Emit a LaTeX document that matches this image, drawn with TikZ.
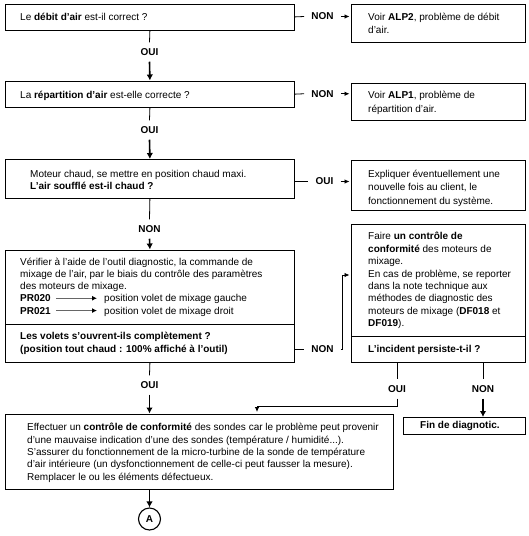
\documentclass[tikz,border=0pt]{standalone}
\usepackage{fontspec}
\setmainfont{Liberation Sans}
\usetikzlibrary{arrows.meta}
\begin{document}
\begin{tikzpicture}[x=1pt,y=-1pt,
  box/.style={draw, line width=0.8pt, inner sep=0pt, anchor=north west},
  txt/.style={anchor=north west, inner sep=0pt, align=left, font=\fontsize{10}{12.4}\selectfont},
  line/.style={anchor=base west, inner sep=0pt, font=\fontsize{10}{12.4}\selectfont},
  lbl/.style={inner xsep=7pt, inner ysep=6pt, font=\fontsize{10}{12}\selectfont\bfseries},
  link/.style={line width=0.8pt},
  bigarrow/.style={line width=1.6pt, -{Latex[length=6pt,width=6.5pt]}},
  thinarrow/.style={line width=0.8pt, -{Latex[length=5pt,width=4.5pt]}, shorten >=1.5pt},
  prarrow/.style={line width=1pt, draw=black!60, -{Latex[length=5pt,width=5pt,color=black]}},
]
\useasboundingbox (0,0) rectangle (529,536);

% ---- boxes
\node[box, minimum width=289pt, minimum height=26pt]   (b1) at (5,3.5) {};
\node[box, minimum width=174pt, minimum height=38.5pt] (r1) at (351,3.5) {};
\node[box, minimum width=289pt, minimum height=26.5pt] (b2) at (5,80.5) {};
\node[box, minimum width=174pt, minimum height=37pt]   (r2) at (351,83) {};
\node[box, minimum width=289pt, minimum height=38.5pt] (b3) at (5,159) {};
\node[box, minimum width=174pt, minimum height=50pt]   (r3) at (351,160) {};
\node[box, minimum width=289pt, minimum height=112.5pt] (b4) at (5,249.5) {};
\node[box, minimum width=174pt, minimum height=138pt]  (b6) at (351,224) {};
\node[box, minimum width=388pt, minimum height=75.5pt] (b5) at (5,413.5) {};
\node[box, minimum width=122pt, minimum height=17pt]   (b7) at (403,417) {};
\node[circle, draw, line width=1.1pt, minimum size=22pt, inner sep=0pt,
      font=\fontsize{10}{12}\selectfont\bfseries] (ca) at (149.5,519) {A};

\coordinate (d4) at (0,324);
\coordinate (d6) at (0,336.5);
\draw[link] (d4 -| b4.west) -- (d4 -| b4.east);
\draw[link] (d6 -| b6.west) -- (d6 -| b6.east);

% ---- texts
\node[line] (t1) at (20,20) {Le \textbf{débit d'air} est-il correct ?};
\node[txt, font=\fontsize{10}{13.4}\selectfont] (tr1) at (368,10.62)
  {\strut Voir \textbf{ALP2}, problème de débit\\d'air.};
\node[line] (t2) at (20,98) {La \textbf{répartition d'air} est-elle correcte ?};
\node[txt, font=\fontsize{10}{13.4}\selectfont] (tr2) at (368,89.12)
  {\strut Voir \textbf{ALP1}, problème de\\répartition d'air.};
\node[txt] (t3) at (30,168.52)
  {\strut Moteur chaud, se mettre en position chaud maxi.\\\textbf{L'air soufflé est-il chaud ?}};
\node[txt, font=\fontsize{10}{13.2}\selectfont] (tr3) at (368,168.26)
  {\strut Expliquer éventuellement une\\nouvelle fois au client, le\\fonctionnement du système.};
\node[txt] (t4a) at (20,256.12)
  {\strut Vérifier à l’aide de l’outil diagnostic, la commande de\\mixage de l’air, par le biais du contrôle des paramètres\\des moteurs de mixage.};
\node[line] (pr0) at (20,301.7) {\textbf{PR020}};
\node[line] (pv0) at (104,301.7) {position volet de mixage gauche};
\node[line] (pr1) at (20,314) {\textbf{PR021}};
\node[line] (pv1) at (104,314) {position volet de mixage droit};
\draw[prarrow, shorten <=5pt, shorten >=7pt] (pr0.east) -- (pr0.east -| pv0.west);
\draw[prarrow, shorten <=5pt, shorten >=7pt] (pr1.east) -- (pr1.east -| pv1.west);
\node[txt] (t4b) at (20,330.82)
  {\strut\textbf{Les volets s’ouvrent-ils complètement ?}\\\textbf{(position tout chaud : 100\% affiché à l’outil)}};
\node[txt] (t6) at (368,230.92)
  {\strut Faire \textbf{un contrôle de}\\\textbf{conformité} des moteurs de\\mixage.\\En cas de problème, se reporter\\dans la note technique aux\\méthodes de diagnostic des\\moteurs de mixage (\textbf{DF018} et\\\textbf{DF019}).};
\node[line] (t6b) at (368,352.5) {\textbf{L’incident persiste-t-il ?}};
\node[txt, font=\fontsize{10}{12.3}\selectfont] (t5) at (27,421.99)
  {\strut Effectuer un \textbf{contrôle de conformité} des sondes car le problème peut provenir\\d’une mauvaise indication d’une des sondes (température / humidité...).\\S’assurer du fonctionnement de la micro-turbine de la sonde de température\\d’air intérieure (un dysfonctionnement de celle-ci peut fausser la mesure).\\Remplacer le ou les éléments défectueux.};
\node[line] (t7) at (420,428.5) {\textbf{Fin de diagnotic.}};

% ---- labels
\node[lbl] (n1) at (322.5,16.5) {NON};
\node[lbl] (o1) at (149.5,52) {OUI};
\node[lbl] (n2) at (322.5,93.75) {NON};
\node[lbl] (o2) at (149.5,130) {OUI};
\node[lbl] (o3) at (324.5,181.5) {OUI};
\node[lbl] (n3) at (149.5,229) {NON};
\node[lbl] (n4) at (322.5,349) {NON};
\node[lbl] (o4) at (149.5,385) {OUI};
\node[lbl] (o5) at (397,389) {OUI};
\node[lbl] (n5) at (483,389) {NON};

% ---- connectors
\draw[link] (b1.east) -- (n1.west);
\draw[thinarrow] (n1.east) -- (r1.west |- n1);
\draw[link] (b1.south) -- (o1.north);
\draw[bigarrow] (o1.south) -- (b2.north);

\draw[link] (b2.east) -- (n2.west);
\draw[thinarrow] (n2.east) -- (r2.west |- n2);
\draw[link] (b2.south) -- (o2.north);
\draw[bigarrow] (o2.south) -- (b3.north);

\draw[link] (b3.east |- o3) -- (o3.west);
\draw[thinarrow] (o3.east) -- (r3.west |- o3);
\draw[link] (b3.south) -- (n3.north);
\draw[bigarrow] (n3.south) -- (b4.north);

\coordinate (k4) at (342,275);
\draw[link] (b4.east |- n4) -- (n4.west);
\draw[thinarrow] (n4.east) -| (k4) -- (k4 -| b6.west);
\draw[link] (b4.south) -- (o4.north);
\draw[bigarrow] (o4.south) -- (o4.south |- b5.north);

\coordinate (k5) at (257,406.5);
\draw[link] (o5.north |- b6.south) -- (o5.north);
\draw[thinarrow] (o5.south) |- (k5) -- (k5 |- b5.north);
\draw[link] (n5.north |- b6.south) -- (n5.north);
\draw[bigarrow] (n5.south) -- (n5.south |- b7.north);

\draw[bigarrow] (b5.south -| ca) -- (ca.north);
\end{tikzpicture}
\end{document}
